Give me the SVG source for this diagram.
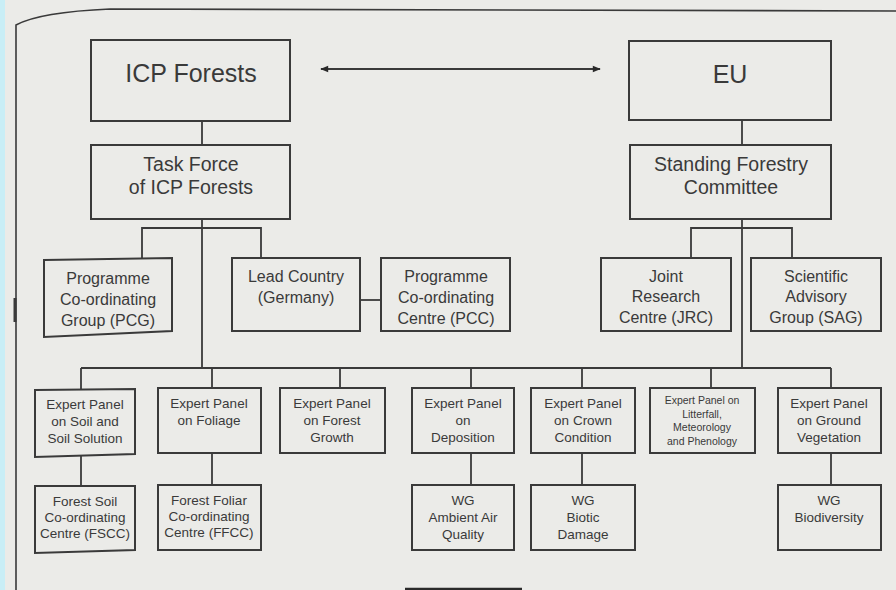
<svg xmlns="http://www.w3.org/2000/svg" width="896" height="590" viewBox="0 0 896 590">
<defs>
<marker id="ah" viewBox="0 0 10 10" refX="9" refY="5" markerWidth="10" markerHeight="8" orient="auto-start-reverse" markerUnits="userSpaceOnUse">
<path d="M0,1 L10,5 L0,9 Z" fill="#2a2a2a"/>
</marker>
<style>
.b{fill:none;stroke:#3a3a3a;stroke-width:2}
.c{fill:none;stroke:#3a3a3a;stroke-width:1.8}
text{font-family:"Liberation Sans",Arial,sans-serif;fill:#3a3a3a;text-anchor:middle}
.t1{font-size:25px}
.t2{font-size:19.5px}
.t3{font-size:16px}
.t4{font-size:13.5px}
.t5{font-size:10.5px}
</style>
</defs>
<rect x="0" y="0" width="896" height="590" fill="#ebebe8"/>
<rect x="0" y="0" width="5" height="590" fill="#c9eef6"/>
<path d="M16,590 L16,25 Q40,12 110,9 L896,11" fill="none" stroke="#3a3a3a" stroke-width="1.6"/>
<line x1="15" y1="298" x2="15" y2="322" stroke="#3a3a3a" stroke-width="3"/>
<line x1="405" y1="589" x2="522" y2="589" stroke="#2a2a2a" stroke-width="2.5"/>

<g id="connectors" class="c">
<line x1="321" y1="69" x2="600" y2="69" stroke-width="2.2" marker-start="url(#ah)" marker-end="url(#ah)"/>
<line x1="202" y1="121" x2="202" y2="145"/>
<line x1="742" y1="120" x2="742" y2="145"/>
<line x1="202" y1="219" x2="202" y2="368"/>
<polyline points="142,258 142,228 261,228 261,258"/>
<line x1="360" y1="300" x2="381" y2="300"/>
<line x1="742" y1="219" x2="742" y2="368"/>
<polyline points="691,258 691,228 792,228 792,258"/>
<line x1="81" y1="368" x2="831" y2="368"/>
<line x1="81" y1="368" x2="81" y2="389"/>
<line x1="212" y1="368" x2="212" y2="388"/>
<line x1="340" y1="368" x2="340" y2="388"/>
<line x1="471" y1="368" x2="471" y2="388"/>
<line x1="582" y1="368" x2="582" y2="388"/>
<line x1="711" y1="368" x2="711" y2="388"/>
<line x1="831" y1="368" x2="831" y2="388"/>
<line x1="81" y1="456" x2="81" y2="486"/>
<line x1="212" y1="453" x2="212" y2="485"/>
<line x1="471" y1="453" x2="471" y2="485"/>
<line x1="582" y1="453" x2="582" y2="485"/>
<line x1="831" y1="453" x2="831" y2="485"/>
</g>

<g id="icp"><rect class="b" x="91" y="40" width="199" height="81"/><text class="t1" x="191" y="82">ICP Forests</text></g>
<g id="eu"><rect class="b" x="629" y="41" width="202" height="79"/><text class="t1" x="730" y="83">EU</text></g>
<g id="taskforce"><rect class="b" x="91" y="145" width="199" height="74"/><text class="t2" x="191" y="171">Task Force</text><text class="t2" x="191" y="194">of ICP Forests</text></g>
<g id="sfc"><rect class="b" x="630" y="145" width="201" height="74"/><text class="t2" x="731" y="171">Standing Forestry</text><text class="t2" x="731" y="194">Committee</text></g>

<g id="pcg"><path class="b" d="M44,260 L172,258 L172,331 L44,337 Z"/><text class="t3" x="108" y="284">Programme</text><text class="t3" x="108" y="305">Co-ordinating</text><text class="t3" x="108" y="326">Group (PCG)</text></g>
<g id="lead"><rect class="b" x="232" y="258" width="128" height="73"/><text class="t3" x="296" y="282">Lead Country</text><text class="t3" x="296" y="303">(Germany)</text></g>
<g id="pcc"><rect class="b" x="381" y="258" width="129" height="73"/><text class="t3" x="446" y="282">Programme</text><text class="t3" x="446" y="303">Co-ordinating</text><text class="t3" x="446" y="324">Centre (PCC)</text></g>
<g id="jrc"><rect class="b" x="601" y="258" width="130" height="73"/><text class="t3" x="666" y="282">Joint</text><text class="t3" x="666" y="302">Research</text><text class="t3" x="666" y="323">Centre (JRC)</text></g>
<g id="sag"><rect class="b" x="751" y="258" width="130" height="73"/><text class="t3" x="816" y="282">Scientific</text><text class="t3" x="816" y="302">Advisory</text><text class="t3" x="816" y="323">Group (SAG)</text></g>

<g id="ep-soil"><path class="b" d="M35,390 L135,389 L135,454 L35,457 Z"/><text class="t4" x="85" y="409">Expert Panel</text><text class="t4" x="85" y="426">on Soil and</text><text class="t4" x="85" y="443">Soil Solution</text></g>
<g id="ep-foliage"><rect class="b" x="158" y="388" width="103" height="65"/><text class="t4" x="209" y="408">Expert Panel</text><text class="t4" x="209" y="425">on Foliage</text></g>
<g id="ep-growth"><rect class="b" x="280" y="388" width="105" height="65"/><text class="t4" x="332" y="408">Expert Panel</text><text class="t4" x="332" y="425">on Forest</text><text class="t4" x="332" y="442">Growth</text></g>
<g id="ep-deposition"><rect class="b" x="412" y="388" width="102" height="65"/><text class="t4" x="463" y="408">Expert Panel</text><text class="t4" x="463" y="425">on</text><text class="t4" x="463" y="442">Deposition</text></g>
<g id="ep-crown"><rect class="b" x="531" y="388" width="104" height="65"/><text class="t4" x="583" y="408">Expert Panel</text><text class="t4" x="583" y="425">on Crown</text><text class="t4" x="583" y="442">Condition</text></g>
<g id="ep-litterfall"><rect class="b" x="650" y="388" width="105" height="65"/><text class="t5" x="702" y="404">Expert Panel on</text><text class="t5" x="702" y="418">Litterfall,</text><text class="t5" x="702" y="431">Meteorology</text><text class="t5" x="702" y="445">and Phenology</text></g>
<g id="ep-ground"><rect class="b" x="778" y="388" width="103" height="65"/><text class="t4" x="829" y="408">Expert Panel</text><text class="t4" x="829" y="425">on Ground</text><text class="t4" x="829" y="442">Vegetation</text></g>

<g id="fscc"><path class="b" d="M35,486 L135,486 L135,550 L35,553 Z"/><text class="t4" x="85" y="506">Forest Soil</text><text class="t4" x="85" y="522">Co-ordinating</text><text class="t4" x="85" y="538">Centre (FSCC)</text></g>
<g id="ffcc"><rect class="b" x="158" y="485" width="103" height="65"/><text class="t4" x="209" y="505">Forest Foliar</text><text class="t4" x="209" y="521">Co-ordinating</text><text class="t4" x="209" y="537">Centre (FFCC)</text></g>
<g id="wg-air"><rect class="b" x="412" y="485" width="102" height="65"/><text class="t4" x="463" y="505">WG</text><text class="t4" x="463" y="522">Ambient Air</text><text class="t4" x="463" y="539">Quality</text></g>
<g id="wg-biotic"><rect class="b" x="531" y="485" width="104" height="65"/><text class="t4" x="583" y="505">WG</text><text class="t4" x="583" y="522">Biotic</text><text class="t4" x="583" y="539">Damage</text></g>
<g id="wg-bio"><rect class="b" x="778" y="485" width="103" height="65"/><text class="t4" x="829" y="505">WG</text><text class="t4" x="829" y="522">Biodiversity</text></g>
</svg>
